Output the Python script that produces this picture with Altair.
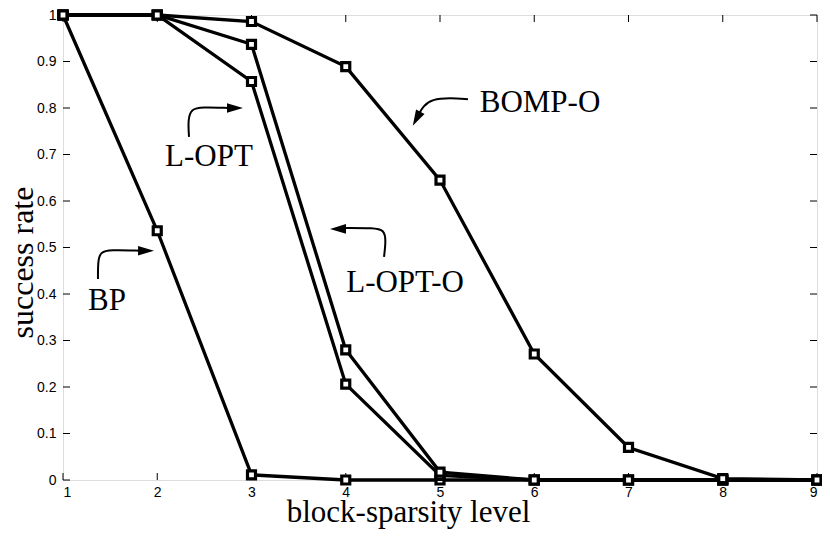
import altair as alt
import pandas as pd

# ---- data ----
levels = [1, 2, 3, 4, 5, 6, 7, 8, 9]
bp = [1.0, 0.536, 0.011, 0.0, 0.0, 0.0, 0.0, 0.0, 0.0]
l_opt = [1.0, 1.0, 0.857, 0.206, 0.010, 0.0, 0.0, 0.0, 0.0]
l_opt_o = [1.0, 1.0, 0.937, 0.280, 0.017, 0.0, 0.0, 0.0, 0.0]
bomp_o = [1.0, 1.0, 0.986, 0.889, 0.645, 0.271, 0.070, 0.003, 0.0]
series_names = ["BP", "L-OPT", "L-OPT-O", "BOMP-O"]

x_ticks = [1, 2, 3, 4, 5, 6, 7, 8, 9]
y_ticks = [0, 0.1, 0.2, 0.3, 0.4, 0.5, 0.6, 0.7, 0.8, 0.9, 1]

# annotation labels (data coordinates, baseline)
label_text = ["BP", "L-OPT", "L-OPT-O", "BOMP-O"]
label_x = [1.467, 2.549, 4.629, 6.061]
label_y = [0.366, 0.675, 0.404, 0.791]

# curved arrow paths (data coordinates)
arrow_bp_x = [1.371, 1.371, 1.393, 1.499, 1.817]
arrow_bp_y = [0.432, 0.469, 0.490, 0.495, 0.493]
arrow_lopt_x = [2.337, 2.326, 2.358, 2.475, 2.751]
arrow_lopt_y = [0.738, 0.774, 0.798, 0.802, 0.800]
arrow_lopto_x = [4.406, 4.427, 4.406, 4.300, 3.992]
arrow_lopto_y = [0.480, 0.516, 0.538, 0.542, 0.542]
arrow_bompo_x = [5.297, 5.106, 4.915, 4.820, 4.777]
arrow_bompo_y = [0.819, 0.822, 0.819, 0.804, 0.787]

# arrow heads: centre and direction
head_x = [1.881, 2.825, 3.918, 4.751]
head_y = [0.493, 0.800, 0.540, 0.777]
head_angle = [0, 0, 180, 118]

W, H = 754, 465
TICK = 7

# ---- tables ----
rows = []
for name, vals in zip(series_names, [bp, l_opt, l_opt_o, bomp_o]):
    for x, y in zip(levels, vals):
        rows.append({"series": name, "level": x, "rate": y})
df = pd.DataFrame(rows)

arrow_rows = []
for aid, (ax, ay) in enumerate([(arrow_bp_x, arrow_bp_y), (arrow_lopt_x, arrow_lopt_y),
                                (arrow_lopto_x, arrow_lopto_y), (arrow_bompo_x, arrow_bompo_y)]):
    for i, (x, y) in enumerate(zip(ax, ay)):
        arrow_rows.append({"arrow": aid, "i": i, "x": x, "y": y})
arrows_df = pd.DataFrame(arrow_rows)
heads_df = pd.DataFrame({"x": head_x, "y": head_y, "angle": head_angle})
labels_df = pd.DataFrame({"t": label_text, "x": label_x, "y": label_y})
xt_df = pd.DataFrame({"v": x_ticks})
yt_df = pd.DataFrame({"v": y_ticks})

xscale = alt.Scale(domain=[1, 9], nice=False, zero=False)
yscale = alt.Scale(domain=[0, 1], nice=False, zero=False)

xaxis = alt.Axis(values=x_ticks, format="d", title="block-sparsity level",
                 domain=False, ticks=False, grid=False, labelPadding=5,
                 labelFont="Liberation Sans", labelFontSize=14, labelColor="black",
                 titleFont="Liberation Serif", titleFontSize=31, titleFontWeight="normal",
                 titleColor="black", titleBaseline="alphabetic", titleY=41, titleX=345,
                 titleAlign="center")
yaxis = alt.Axis(values=y_ticks, format="~g", title="success rate",
                 domain=False, ticks=False, grid=False, labelPadding=7,
                 labelFont="Liberation Sans", labelFontSize=14, labelColor="black",
                 titleFont="Liberation Serif", titleFontSize=32, titleFontWeight="normal",
                 titleColor="black", titleBaseline="alphabetic", titleAngle=270,
                 titleX=-31, titleY=247, titleAlign="center")


def X(field):
    return alt.X(field, scale=xscale, axis=xaxis, title="block-sparsity level")


def Y(field):
    return alt.Y(field, scale=yscale, axis=yaxis, title="success rate")


base = alt.Chart(df)
lines = base.mark_line(color="black", strokeWidth=3.3).encode(
    x=X("level:Q"), y=Y("rate:Q"), detail="series:N")
points = base.mark_point(shape="square", size=64, filled=True, fill="white",
                         stroke="black", strokeWidth=3.2, opacity=1).encode(
    x=X("level:Q"), y=Y("rate:Q"))

# inside ticks (MATLAB style)
tb = alt.Chart(xt_df).mark_rule(color="black", strokeWidth=1).encode(
    x=X("v:Q"), y=alt.value(H), y2=alt.value(H - TICK))
tt = alt.Chart(xt_df).mark_rule(color="black", strokeWidth=1).encode(
    x=X("v:Q"), y=alt.value(0), y2=alt.value(TICK))
tl = alt.Chart(yt_df).mark_rule(color="black", strokeWidth=1).encode(
    y=Y("v:Q"), x=alt.value(0), x2=alt.value(TICK))
tr = alt.Chart(yt_df).mark_rule(color="black", strokeWidth=1).encode(
    y=Y("v:Q"), x=alt.value(W - TICK), x2=alt.value(W))

arrow_lines = alt.Chart(arrows_df).mark_line(color="black", strokeWidth=2,
                                             interpolate="basis").encode(
    x=X("x:Q"), y=Y("y:Q"), detail="arrow:N", order="i:Q")
arrow_heads = alt.Chart(heads_df).mark_point(
    shape="M-1,-0.6L1,0L-1,0.6Z", size=256, filled=True, color="black",
    opacity=1, strokeWidth=0).encode(
    x=X("x:Q"), y=Y("y:Q"), angle=alt.Angle("angle:Q", scale=None))
labels = alt.Chart(labels_df).mark_text(font="Liberation Serif", fontSize=31,
                                        align="center", baseline="alphabetic",
                                        color="black").encode(
    x=X("x:Q"), y=Y("y:Q"), text="t:N")

chart = alt.layer(lines, tb, tt, tl, tr, points, arrow_lines, arrow_heads, labels).properties(
    width=W, height=H,
    padding={"left": 55, "top": 7, "right": 5, "bottom": 49},
    autosize=alt.AutoSizeParams(type="none"),
).configure_view(stroke="black", strokeWidth=1.2).configure(background="white")

chart.save("out.html", embed_options={"renderer": "svg", "actions": False})
